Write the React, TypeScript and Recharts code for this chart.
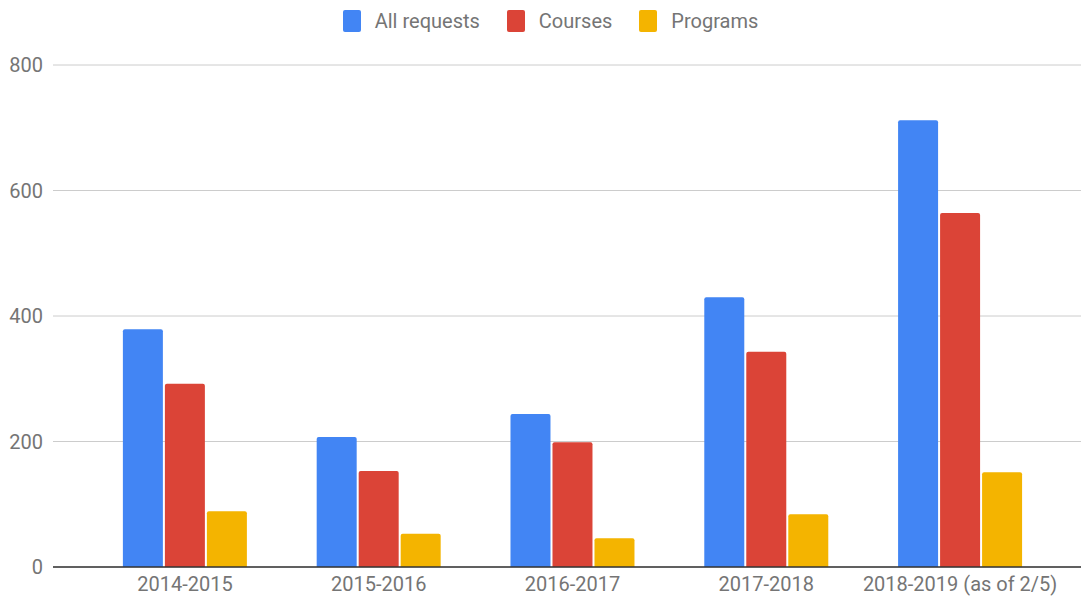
import React from "react";
import { BarChart, Bar, XAxis, YAxis, CartesianGrid, ReferenceLine } from "recharts";

const years = ["2014-2015", "2015-2016", "2016-2017", "2017-2018", "2018-2019 (as of 2/5)"];
const allRequests = [379, 207, 244, 430, 712];
const courses = [292, 153, 199, 343, 564];
const programs = [89, 53, 46, 84, 151];
const yTicks = [0, 200, 400, 600, 800];

const series = [
    { key: "all", name: "All requests", color: "#4285F4" },
    { key: "courses", name: "Courses", color: "#DB4437" },
    { key: "programs", name: "Programs", color: "#F4B400" },
];

const data = years.map((year, i) => ({
    year,
    all: allRequests[i],
    courses: courses[i],
    programs: programs[i],
}));

const font = "Roboto, 'Noto Sans', sans-serif";
const textColor = "#757575";

// legend drawn by hand so it sits on top like the google one
function TopLegend() {
    return (
        <div style={{ position: "absolute", top: 9, left: 0, width: 1081, paddingLeft: 20, boxSizing: "border-box", display: "flex", justifyContent: "center", fontFamily: font, fontSize: 20, color: textColor }}>
            {series.map((s, i) => (
                <div key={s.key} style={{ display: "flex", alignItems: "center", marginRight: i < series.length - 1 ? 27 : 0 }}>
                    <div style={{ width: 18, height: 22, background: s.color, borderRadius: 2, marginRight: 14 }} />
                    <span>{s.name}</span>
                </div>
            ))}
        </div>
    );
}

export default function App() {
    return (
        <div style={{ position: "absolute", left: 0, top: 0, width: 1081, height: 598, overflow: "hidden", background: "#fff" }}>
            <BarChart
                width={1100}
                height={598}
                data={data}
                margin={{ top: 65, right: 8, bottom: 0, left: 0 }}
                barCategoryGap="18%"
                barGap={2}
            >
                <CartesianGrid vertical={false} stroke="#cccccc" />
                <XAxis
                    dataKey="year"
                    height={31}
                    padding={{ left: 35, right: 35 }}
                    axisLine={false}
                    tickLine={false}
                    tickSize={0}
                    tickMargin={10}
                    tick={{ fill: textColor, fontSize: 20, fontFamily: font }}
                    interval={0}
                />
                <YAxis
                    width={53}
                    domain={[0, 800]}
                    ticks={yTicks}
                    axisLine={false}
                    tickLine={false}
                    tickSize={0}
                    tickMargin={10}
                    tick={{ fill: textColor, fontSize: 20, fontFamily: font }}
                />
                {series.map((s) => (
                    <Bar key={s.key} dataKey={s.key} name={s.name} fill={s.color} radius={[2, 2, 0, 0]} isAnimationActive={false} />
                ))}
                <ReferenceLine y={0} stroke="#333333" strokeWidth={1.5} />
            </BarChart>
            <TopLegend />
        </div>
    );
}
